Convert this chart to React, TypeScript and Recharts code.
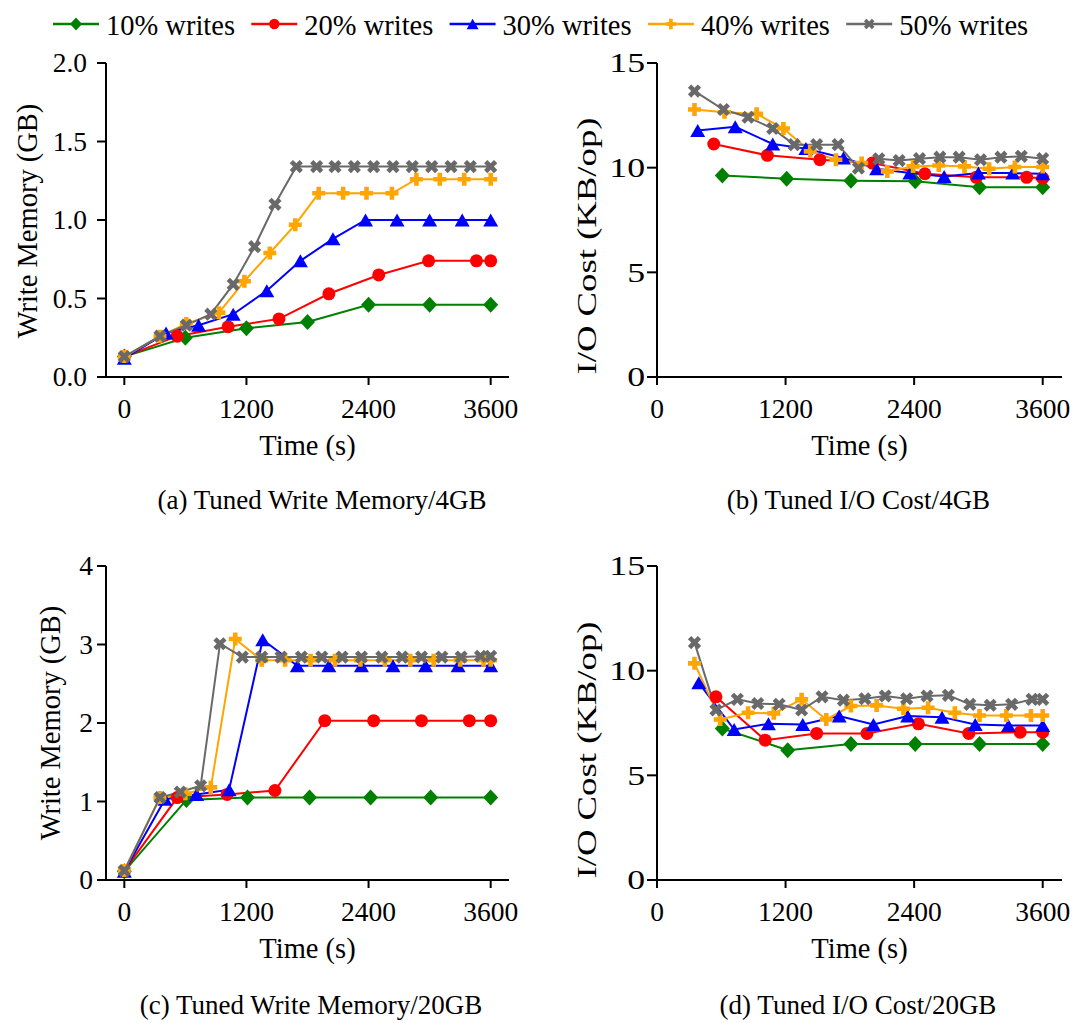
import React from "react";
import { LineChart, Line, XAxis, YAxis } from "recharts";

const FONT = '"Liberation Serif", "Times New Roman", serif';
const NAMES = ["10% writes", "20% writes", "30% writes", "40% writes", "50% writes"];
const COLORS = ["#008000", "#ff0000", "#0000ff", "#ffa500", "#696969"];
const SHAPES = ["diamond", "circle", "triangle", "plus", "x"];
const X_TICKS = [0, 1200, 2400, 3600];

// (a) write memory, 4GB
const a10t = [0, 600, 1200, 1800, 2400, 3000, 3600];
const a10v = [0.13, 0.25, 0.31, 0.35, 0.46, 0.46, 0.46];
const a20t = [0, 520, 1020, 1520, 2010, 2500, 2990, 3460, 3600];
const a20v = [0.13, 0.26, 0.32, 0.37, 0.53, 0.65, 0.74, 0.74, 0.74];
const a30t = [0, 410, 730, 1070, 1400, 1730, 2050, 2370, 2680, 3000, 3320, 3600];
const a30v = [0.12, 0.28, 0.33, 0.4, 0.55, 0.74, 0.88, 1.0, 1.0, 1.0, 1.0, 1.0];
const a40t = [0, 350, 610, 930, 1180, 1430, 1680, 1910, 2150, 2380, 2630, 2870, 3100, 3340, 3600];
const a40v = [0.13, 0.26, 0.34, 0.41, 0.61, 0.79, 0.97, 1.17, 1.17, 1.17, 1.17, 1.26, 1.26, 1.26, 1.26];
const a50t = [0, 350, 610, 850, 1070, 1280, 1480, 1690, 1890, 2070, 2260, 2450, 2640, 2830, 3020, 3210, 3400, 3600];
const a50v = [0.13, 0.26, 0.33, 0.4, 0.59, 0.83, 1.1, 1.34, 1.34, 1.34, 1.34, 1.34, 1.34, 1.34, 1.34, 1.34, 1.34, 1.34];

// (b) I/O cost, 4GB
const b10t = [610, 1210, 1810, 2410, 3010, 3600];
const b10v = [9.63, 9.47, 9.38, 9.35, 9.07, 9.07];
const b20t = [530, 1030, 1520, 2010, 2500, 2980, 3450, 3600];
const b20v = [11.13, 10.59, 10.38, 10.22, 9.71, 9.54, 9.54, 9.5];
const b30t = [380, 730, 1080, 1390, 1740, 2050, 2360, 2680, 3000, 3320, 3600];
const b30v = [11.77, 11.95, 11.13, 10.91, 10.46, 9.95, 9.74, 9.58, 9.74, 9.74, 9.71];
const b40t = [350, 630, 930, 1180, 1430, 1670, 1910, 2150, 2390, 2630, 2870, 3100, 3340, 3600];
const b40v = [12.78, 12.65, 12.57, 11.87, 10.78, 10.38, 10.22, 9.82, 10.06, 10.1, 10.06, 9.95, 10.03, 10.03];
const b50t = [350, 620, 850, 1080, 1280, 1490, 1690, 1880, 2070, 2260, 2450, 2640, 2820, 3020, 3210, 3400, 3600];
const b50v = [13.66, 12.78, 12.41, 11.87, 11.1, 11.1, 11.1, 9.98, 10.42, 10.34, 10.43, 10.5, 10.5, 10.38, 10.5, 10.54, 10.43];

// (c) write memory, 20GB
const c10t = [0, 610, 1210, 1820, 2420, 3010, 3600];
const c10v = [0.11, 1.02, 1.05, 1.05, 1.05, 1.05, 1.05];
const c20t = [0, 520, 1010, 1480, 1970, 2450, 2920, 3390, 3600];
const c20v = [0.12, 1.05, 1.09, 1.14, 2.03, 2.03, 2.03, 2.03, 2.03];
const c30t = [0, 400, 710, 1030, 1360, 1700, 2010, 2330, 2640, 2960, 3280, 3600];
const c30v = [0.11, 1.03, 1.09, 1.15, 3.06, 2.73, 2.73, 2.73, 2.73, 2.73, 2.73, 2.73];
const c40t = [0, 350, 600, 850, 1090, 1350, 1580, 1830, 2070, 2320, 2560, 2810, 3040, 3300, 3530, 3600];
const c40v = [0.12, 1.05, 1.1, 1.18, 3.07, 2.8, 2.8, 2.8, 2.8, 2.8, 2.8, 2.8, 2.8, 2.8, 2.8, 2.8];
const c50t = [0, 350, 550, 750, 940, 1160, 1350, 1540, 1740, 1940, 2140, 2330, 2530, 2730, 2920, 3120, 3310, 3500, 3600];
const c50v = [0.12, 1.05, 1.12, 1.2, 3.01, 2.84, 2.84, 2.84, 2.84, 2.84, 2.84, 2.84, 2.84, 2.84, 2.84, 2.84, 2.84, 2.85, 2.85];

// (d) I/O cost, 20GB
const d10t = [610, 1220, 1810, 2410, 3010, 3600];
const d10v = [7.24, 6.2, 6.5, 6.5, 6.5, 6.5];
const d20t = [550, 1010, 1490, 1960, 2440, 2910, 3390, 3600];
const d20v = [8.75, 6.68, 7.0, 7.0, 7.46, 7.0, 7.06, 7.06];
const d30t = [390, 720, 1040, 1360, 1700, 2020, 2340, 2660, 2970, 3280, 3600];
const d30v = [9.42, 7.19, 7.46, 7.43, 7.83, 7.43, 7.83, 7.78, 7.43, 7.38, 7.38];
const d40t = [350, 590, 850, 1090, 1350, 1580, 1810, 2050, 2300, 2530, 2780, 3010, 3260, 3490, 3600];
const d40v = [10.35, 7.67, 7.99, 7.96, 8.63, 7.67, 8.31, 8.34, 8.18, 8.23, 7.99, 7.86, 7.86, 7.86, 7.86];
const d50t = [350, 550, 750, 940, 1140, 1350, 1540, 1740, 1940, 2130, 2330, 2520, 2720, 2920, 3110, 3310, 3500, 3600];
const d50v = [11.34, 8.12, 8.63, 8.43, 8.39, 8.12, 8.75, 8.59, 8.66, 8.79, 8.66, 8.79, 8.82, 8.39, 8.35, 8.39, 8.63, 8.63];

const zip = (t: number[], v: number[]) => t.map((x, i) => ({ t: x, v: v[i] }));

function Marker({ shape, cx, cy, color, s = 1 }: any) {
  if (shape === "circle") return <circle cx={cx} cy={cy} r={6.5 * s} fill={color} />;
  if (shape === "diamond") {
    const w = 7.5 * s, h = 8 * s;
    return <polygon points={`${cx},${cy - h} ${cx + w},${cy} ${cx},${cy + h} ${cx - w},${cy}`} fill={color} />;
  }
  if (shape === "triangle") {
    const w = 7.5 * s, h = 6.5 * s;
    return <polygon points={`${cx},${cy - h} ${cx + w},${cy + h} ${cx - w},${cy + h}`} fill={color} />;
  }
  const a = (shape === "plus" ? 6.5 : 7) * s;
  const b = 2.3 * s;
  const pts = [
    [-b, -a], [b, -a], [b, -b], [a, -b], [a, b], [b, b],
    [b, a], [-b, a], [-b, b], [-a, b], [-a, -b], [-b, -b],
  ].map(([x, y]) => `${cx + x},${cy + y}`).join(" ");
  return (
    <polygon
      points={pts}
      fill={color}
      transform={shape === "x" ? `rotate(45 ${cx} ${cy})` : undefined}
    />
  );
}

const PANELS = [
  {
    x: 106, y: 63, w: 403, h: 314, xDomain: [-180, 3780], yDomain: [0, 2], yTicks: [0, 0.5, 1, 1.5, 2],
    fmt: (v: number) => v.toFixed(1), yLabel: "Write Memory (GB)", yLabelX: 27, yLabelY: 221, yLabelLen: 0, yLabelSize: 28.5,
    yTickSize: 9, yTickMargin: 10, yTickScale: 1,
    caption: "(a) Tuned Write Memory/4GB", capX: 322, capY: 509,
    series: [zip(a10t, a10v), zip(a20t, a20v), zip(a30t, a30v), zip(a40t, a40v), zip(a50t, a50v)],
  },
  {
    x: 657, y: 63, w: 405, h: 314, xDomain: [0, 3780], yDomain: [0, 15], yTicks: [0, 5, 10, 15],
    fmt: (v: number) => String(v), yLabel: "I/O Cost (KB/op)", yLabelX: 587, yLabelY: 246, yLabelLen: 257, yLabelSize: 26.5,
    yTickSize: 10, yTickMargin: 2, yTickScale: 1.3,
    caption: "(b) Tuned I/O Cost/4GB", capX: 858.5, capY: 509,
    series: [zip(b10t, b10v), zip(b20t, b20v), zip(b30t, b30v), zip(b40t, b40v), zip(b50t, b50v)],
  },
  {
    x: 106, y: 566, w: 403, h: 314, xDomain: [-180, 3780], yDomain: [0, 4], yTicks: [0, 1, 2, 3, 4],
    fmt: (v: number) => String(v), yLabel: "Write Memory (GB)", yLabelX: 50, yLabelY: 723, yLabelLen: 0, yLabelSize: 28.5,
    yTickSize: 9, yTickMargin: 4, yTickScale: 1,
    caption: "(c) Tuned Write Memory/20GB", capX: 311, capY: 1014,
    series: [zip(c10t, c10v), zip(c20t, c20v), zip(c30t, c30v), zip(c40t, c40v), zip(c50t, c50v)],
  },
  {
    x: 657, y: 566, w: 405, h: 314, xDomain: [0, 3780], yDomain: [0, 15], yTicks: [0, 5, 10, 15],
    fmt: (v: number) => String(v), yLabel: "I/O Cost (KB/op)", yLabelX: 587, yLabelY: 750, yLabelLen: 257, yLabelSize: 26.5,
    yTickSize: 10, yTickMargin: 2, yTickScale: 1.3,
    caption: "(d) Tuned I/O Cost/20GB", capX: 858, capY: 1014,
    series: [zip(d10t, d10v), zip(d20t, d20v), zip(d30t, d30v), zip(d40t, d40v), zip(d50t, d50v)],
  },
];

const CW = 520;
const CH = 500;
const YW = 106;
const XH = 100;

function Panel({ p }: any) {
  const left = p.x - YW;
  const top = p.y - 63;
  const yLabel = () => {
    const lx = p.yLabelX - left;
    const ly = p.yLabelY - top;
    return (
      <text
        x={lx}
        y={ly}
        transform={`rotate(-90 ${lx} ${ly})`}
        textAnchor="middle"
        dominantBaseline="central"
        fontFamily={FONT}
        fontSize={p.yLabelSize}
        fill="#000"
        {...(p.yLabelLen ? { textLength: p.yLabelLen, lengthAdjust: "spacingAndGlyphs" } : {})}
      >
        {p.yLabel}
      </text>
    );
  };
  const xLabel = () => (
    <text x={YW + p.w / 2} y={63 + p.h + 78} textAnchor="middle" fontFamily={FONT} fontSize={28.5} fill="#000">
      Time (s)
    </text>
  );
  const yTick = (t: any) => (
    <text
      x={0}
      y={0}
      transform={`translate(${t.x},${t.y}) scale(${p.yTickScale},1)`}
      textAnchor="end"
      dy="0.34em"
      fontFamily={FONT}
      fontSize={27.5}
      fill="#000"
    >
      {p.fmt(t.payload.value)}
    </text>
  );
  return (
    <div style={{ position: "absolute", left, top, width: CW, height: CH }}>
      <LineChart width={CW} height={CH} margin={{ top: 63, right: CW - YW - p.w, bottom: CH - 63 - p.h - XH, left: 0 }}>
        <XAxis
          type="number"
          dataKey="t"
          domain={p.xDomain}
          ticks={X_TICKS}
          allowDataOverflow
          height={XH}
          stroke="#000"
          axisLine={{ stroke: "#000", strokeWidth: 2 }}
          tickLine={{ stroke: "#000", strokeWidth: 2 }}
          tickSize={8}
          tickMargin={13}
          tick={{ fill: "#000", fontFamily: FONT, fontSize: 27.5 }}
          label={xLabel}
        />
        <XAxis xAxisId="top" orientation="top" type="number" domain={[0, 1]} height={0} tick={false} tickLine={false} axisLine={{ stroke: "#000", strokeWidth: 2 }} />
        <YAxis
          type="number"
          domain={p.yDomain}
          ticks={p.yTicks}
          allowDataOverflow
          width={YW}
          axisLine={{ stroke: "#000", strokeWidth: 2 }}
          tickLine={{ stroke: "#000", strokeWidth: 2 }}
          tickSize={p.yTickSize}
          tickMargin={p.yTickMargin}
          tick={yTick}
          label={yLabel}
        />
        <YAxis yAxisId="right" orientation="right" type="number" domain={[0, 1]} width={0} tick={false} tickLine={false} axisLine={{ stroke: "#000", strokeWidth: 2 }} />
        {p.series.map((d: any, i: number) => (
          <Line
            key={NAMES[i]}
            name={NAMES[i]}
            data={d}
            dataKey="v"
            stroke={COLORS[i]}
            strokeWidth={2}
            isAnimationActive={false}
            activeDot={false}
            dot={(dp: any) => (
              <Marker key={`${i}-${dp.index}`} shape={SHAPES[i]} cx={dp.cx} cy={dp.cy} color={COLORS[i]} />
            )}
          />
        ))}
      </LineChart>
    </div>
  );
}

export default function App() {
  return (
    <div style={{ position: "absolute", left: 0, top: 0, width: 1077, height: 1023, background: "#fff", overflow: "hidden" }}>
      <svg width={1077} height={1023} style={{ position: "absolute", left: 0, top: 0 }}>
        {NAMES.map((n, i) => {
          const x0 = 53 + i * 198.3;
          return (
            <g key={n}>
              <line x1={x0} y1={24} x2={x0 + 46} y2={24} stroke={COLORS[i]} strokeWidth={2.5} />
              <Marker shape={SHAPES[i]} cx={x0 + 23} cy={24} color={COLORS[i]} s={0.8} />
              <text x={x0 + 53} y={35} fontFamily={FONT} fontSize={28.5} fill="#000">{n}</text>
            </g>
          );
        })}
        {PANELS.map((p) => (
          <text key={p.caption} x={p.capX} y={p.capY} textAnchor="middle" fontFamily={FONT} fontSize={27} fill="#000">
            {p.caption}
          </text>
        ))}
      </svg>
      {PANELS.map((p) => (
        <Panel key={p.caption} p={p} />
      ))}
    </div>
  );
}
